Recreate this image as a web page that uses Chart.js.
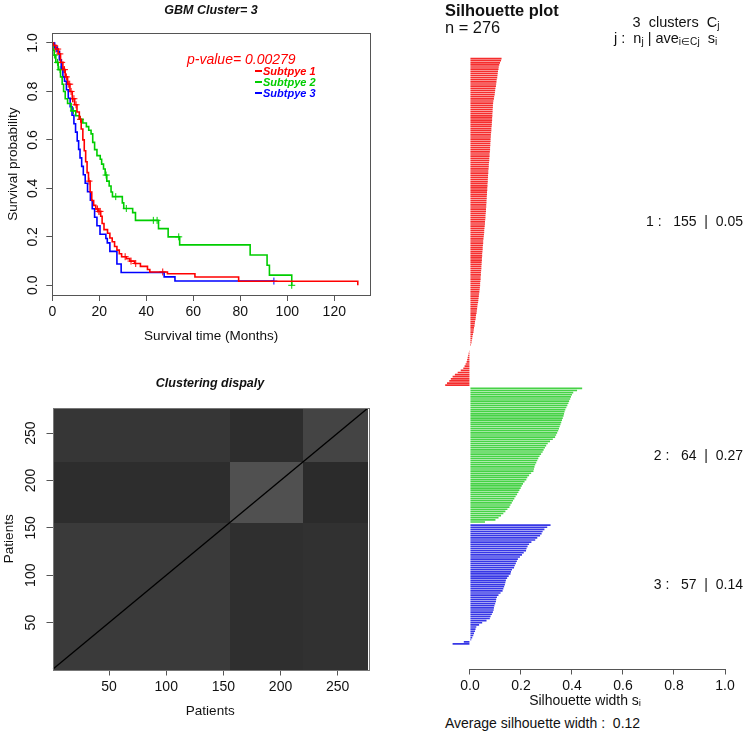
<!DOCTYPE html>
<html>
<head>
<meta charset="utf-8">
<script src="https://cdn.jsdelivr.net/npm/chart.js@4.4.1/dist/chart.umd.min.js"></script>
<style>
  html, body { margin: 0; padding: 0; background: #fff; }
  body { width: 746px; height: 734px; position: relative; overflow: hidden;
         font-family: "Liberation Sans", Arial, sans-serif; color: #111; }
  canvas { position: absolute; }
  .t { position: absolute; white-space: pre; line-height: 1; }
  .t sub { font-size: 70%; vertical-align: -0.25em; line-height: 0; }
  .leg { position: absolute; height: 2px; width: 7px; }
</style>
</head>
<body>
<canvas id="km"   style="left:0;top:0"     width="380" height="345"></canvas>
<canvas id="heat" style="left:0;top:345px" width="380" height="375"></canvas>
<canvas id="sil"  style="left:400px;top:0" width="346" height="710"></canvas>

<!-- survival panel texts -->
<div class="t" style="left:211px;top:10px;transform:translate(-50%,-50%);font-weight:bold;font-style:italic;font-size:12.5px;">GBM Cluster= 3</div>
<div class="t" style="left:187px;top:59px;transform:translateY(-50%);font-style:italic;font-size:14px;color:#f00;">p-value= 0.00279</div>
<div class="leg" style="left:255px;top:70px;background:#f00"></div>
<div class="t" style="left:263px;top:71px;transform:translateY(-50%);font:bold italic 11px 'Liberation Sans',Arial,sans-serif;color:#f00;">Subtpye 1</div>
<div class="leg" style="left:255px;top:81px;background:#00cd00"></div>
<div class="t" style="left:263px;top:82px;transform:translateY(-50%);font:bold italic 11px 'Liberation Sans',Arial,sans-serif;color:#00cd00;">Subtpye 2</div>
<div class="leg" style="left:255px;top:92px;background:#00f"></div>
<div class="t" style="left:263px;top:93px;transform:translateY(-50%);font:bold italic 11px 'Liberation Sans',Arial,sans-serif;color:#00f;">Subtpye 3</div>

<!-- clustering panel title -->
<div class="t" style="left:210px;top:383px;transform:translate(-50%,-50%);font-weight:bold;font-style:italic;font-size:12.5px;">Clustering dispaly</div>

<!-- silhouette panel texts -->
<div class="t" style="left:445px;top:10px;transform:translateY(-50%);font-weight:bold;font-size:16.4px;">Silhouette plot</div>
<div class="t" style="left:445px;top:27px;transform:translateY(-50%);font-size:16.4px;">n = 276</div>
<div class="t" style="left:676px;top:22px;transform:translate(-50%,-50%);font-size:14.5px;">3  clusters  C<sub>j</sub></div>
<div class="t" style="left:614px;top:38px;transform:translateY(-50%);font-size:14.5px;">j :  n<sub>j</sub> | ave<sub>i∈Cj</sub>  s<sub>i</sub></div>
<div class="t" style="right:3px;top:221px;transform:translateY(-50%);font-size:14px;">1 :   155  |  0.05</div>
<div class="t" style="right:3px;top:455px;transform:translateY(-50%);font-size:14px;">2 :   64  |  0.27</div>
<div class="t" style="right:3px;top:584px;transform:translateY(-50%);font-size:14px;">3 :   57  |  0.14</div>
<div class="t" style="left:445px;top:723px;transform:translateY(-50%);font-size:14px;">Average silhouette width :  0.12</div>

<script>
// ── Data ──────────────────────────────────────────────────────────
// Kaplan-Meier curves (months, survival probability)
const redTime   = [0, 0.5, 1.5, 2.5, 3.5, 4.5, 5.5, 6.5, 7.5, 8.5, 9.5, 10.5, 11.5, 12.3, 13, 13.6, 14.2, 14.8, 15.4, 16.1,
                   16.8, 17.6, 18.5, 19.5, 20.6, 21.2, 22, 23.5, 24.5, 25.5, 26.5, 27.5, 28.5, 29.5, 31.5, 33, 35, 37.5, 40.5, 41.5,
                   49, 60.7, 79.3, 130];
const redSurv   = [1, .99, .975, .955, .92, .89, .86, .83, .80, .77, .745, .715, .685, .645, .60, .555, .51, .465, .43, .385,
                   .35, .33, .315, .305, .285, .255, .23, .215, .195, .18, .16, .145, .13, .118, .11, .10, .09, .078, .065, .055,
                   .048, .034, .017, 0];
const greenTime = [0, 0.3, 0.8, 1.5, 2.5, 3.5, 4.2, 4.8, 5.5, 6.5, 8, 10, 11.5, 13, 14.5, 15.5, 16.5, 17.2, 18, 19,
                   20.4, 21, 21.8, 22.5, 23.2, 24.2, 25, 25.6, 29.8, 30.4, 34.2, 35.4, 45.2, 49.3, 54.2, 84.2, 91.4, 92.4, 101.9];
const greenSurv = [1, .97, .95, .92, .89, .86, .83, .80, .77, .75, .72, .70, .685, .67, .655, .64, .625, .59, .56, .535,
                   .52, .50, .48, .455, .43, .41, .385, .366, .34, .317, .30, .268, .234, .200, .167, .125, .083, .042, 0];
const blueTime  = [0, 1, 2, 3, 3.8, 4.5, 5.2, 6, 6.8, 7.6, 8.4, 9.2, 9.9, 10.6, 11.2, 11.8, 12.5, 13.2, 14, 15,
                   16.2, 17, 18, 19, 20.3, 22.8, 23.4, 24.5, 27.5, 29.3, 47.6, 52.2, 94.3];
const blueSurv  = [1, .982, .965, .93, .895, .86, .842, .807, .772, .737, .702, .667, .632, .596, .561, .526, .491, .456, .421, .386,
                   .351, .316, .281, .246, .211, .193, .175, .14, .088, .053, .035, .0175, .0175];
// censoring times
const redCens   = [0.8, 1.5, 2.3, 3.2, 4.0, 4.6, 5.2, 6.0, 6.8, 7.4, 8.0, 8.6, 9.2, 10.1, 12.0, 15.6, 19.2, 19.8, 20.3, 31.0, 33.5, 35.5, 47.0];
const greenCens = [0.9, 2.2, 3.3, 9, 22.9, 27, 31.5, 43, 44.6, 53.8, 101.9];
const blueCens  = [94.3];
const kmXTicks  = [0, 20, 40, 60, 80, 100, 120];
const kmYTicks  = [0, 0.2, 0.4, 0.6, 0.8, 1.0];

// Clustering display: cluster sizes and mean grey level of each block
const clusterSizes = [155, 64, 57];
const blockGray = [          // rows = y cluster (bottom → top), cols = x cluster
  [58, 47, 49],
  [45, 80, 43],
  [54, 45, 68],
];
const heatTicks = [50, 100, 150, 200, 250];

// Silhouette widths, sorted within each cluster
const sil1 = [0.124,0.122,0.118,0.115,0.113,0.112,0.110,0.109,0.108,0.107,0.105,0.104,0.103,0.102,0.100,0.099,0.098,0.097,0.095,0.094,0.092,0.091,
  0.090,0.090,0.089,0.089,0.088,0.088,0.087,0.087,0.086,0.086,0.085,0.084,0.084,0.083,0.082,
  0.082,0.081,0.081,0.080,0.080,0.079,0.079,0.078,0.077,0.077,0.076,0.076,0.075,0.074,0.074,0.073,
  0.072,0.072,0.071,0.071,0.070,0.070,0.069,0.069,0.068,0.068,0.067,
  0.067,0.066,0.066,0.065,0.065,0.064,0.064,0.063,0.063,0.062,0.061,0.061,0.060,
  0.059,0.059,0.058,0.057,0.056,0.056,0.055,0.054,0.053,0.052,
  0.052,0.051,0.050,0.050,0.049,0.048,
  0.048,0.047,0.047,0.046,0.046,0.045,0.045,0.044,0.043,
  0.043,0.042,0.042,0.041,0.040,0.040,0.039,
  0.038,0.037,0.036,0.035,0.034,0.033,0.032,0.030,
  0.029,0.028,0.027,0.026,0.024,0.023,0.022,0.020,
  0.019,0.018,0.016,0.015,0.014,0.012,
  0.010,0.009,0.007,0.006,0.004,
  0.002,0.000,-0.003,
  -0.005,-0.007,-0.009,-0.011,-0.013,
  -0.017,-0.021,-0.026,
  -0.036,-0.048,-0.059,
  -0.068,-0.075,-0.081,
  -0.090,-0.097];
const sil2 = [0.440,0.420,0.405,0.400,0.396,0.393,0.389,0.386,0.382,0.378,0.374,0.371,0.369,0.367,0.364,0.361,0.358,0.355,0.352,0.349,
  0.346,0.342,0.338,0.334,0.325,0.314,0.305,0.299,0.294,0.289,0.285,0.279,0.273,0.268,0.264,0.260,0.256,0.253,0.251,0.249,
  0.240,0.232,0.225,0.221,0.214,0.208,0.203,0.199,0.194,0.190,0.185,0.179,0.174,0.169,0.164,0.159,0.155,0.147,0.139,0.131,
  0.122,0.112,0.100,0.059];
const sil3 = [0.316,0.303,0.292,0.285,0.281,0.275,0.264,0.256,0.241,0.232,0.226,0.222,0.220,0.211,0.204,0.196,0.188,0.184,0.180,0.176,
  0.173,0.165,0.161,0.159,0.152,0.146,0.141,0.139,0.137,0.134,0.131,0.128,0.120,0.112,0.106,0.103,0.102,0.099,0.096,0.094,
  0.093,0.090,0.086,0.081,0.078,0.065,0.048,0.036,0.025,0.022,0.020,0.016,0.013,0.009,0.005,-0.024,-0.068];
const silTicks = [0, 0.2, 0.4, 0.6, 0.8, 1.0];

// ── Common ────────────────────────────────────────────────────────
Chart.defaults.font.family = "'Liberation Sans', Arial, sans-serif";
Chart.defaults.color = "#111";
Chart.defaults.animation = false;
Chart.defaults.plugins.legend.display = false;
Chart.defaults.plugins.tooltip.enabled = false;

const AXIS = "#555";
const RED = "#ff0000", GREEN = "#00cd00", BLUE = "#0000ff";

function fixTicks(list) {
  return scale => { scale.ticks = list.map(v => ({ value: v })); };
}
function survAt(times, surv, t) {
  let s = surv[0];
  times.forEach((ti, i) => { if (ti <= t) s = surv[i]; });
  return s;
}
const boxPlugin = color => ({
  id: "box",
  afterDraw(chart) {
    const { ctx, chartArea: a } = chart;
    ctx.save();
    ctx.strokeStyle = color;
    ctx.lineWidth = 1;
    ctx.strokeRect(Math.round(a.left) + 0.5, Math.round(a.top) + 0.5,
                   Math.round(a.right - a.left), Math.round(a.bottom - a.top));
    ctx.restore();
  }
});

// ── Kaplan-Meier ──────────────────────────────────────────────────
function curve(times, surv, color) {
  return { data: times.map((t, i) => ({ x: t, y: surv[i] })), showLine: true, stepped: true,
           borderColor: color, borderWidth: 1.6, pointRadius: 0 };
}
function censor(cens, times, surv, color) {
  return { data: cens.map(t => ({ x: t, y: survAt(times, surv, t) })), showLine: false,
           pointStyle: "cross", pointRadius: 3.5, borderColor: color, borderWidth: 1, backgroundColor: color };
}

new Chart(document.getElementById("km"), {
  type: "scatter",
  data: { datasets: [
    curve(redTime, redSurv, RED),
    curve(greenTime, greenSurv, GREEN),
    curve(blueTime, blueSurv, BLUE),
    censor(redCens, redTime, redSurv, RED),
    censor(greenCens, greenTime, greenSurv, GREEN),
    censor(blueCens, blueTime, blueSurv, BLUE),
  ] },
  options: {
    responsive: false,
    layout: { padding: { left: 0, top: 33.3, right: 10, bottom: 0 } },
    scales: {
      x: { type: "linear", min: 0, max: 135.2, afterBuildTicks: fixTicks(kmXTicks),
           afterFit: s => { s.height = 50; },
           ticks: { autoSkip: false, font: { size: 14 }, padding: 3, maxRotation: 0 },
           grid: { drawOnChartArea: false, tickLength: 6, color: AXIS },
           border: { display: false },
           title: { display: true, text: "Survival time (Months)", font: { size: 13.5 }, padding: { top: 0, bottom: 0.5 } } },
      y: { type: "linear", min: -0.04, max: 1.04, afterBuildTicks: fixTicks(kmYTicks),
           afterFit: s => { s.width = 52.3; },
           ticks: { autoSkip: false, font: { size: 14 }, padding: 3.5, minRotation: 90, maxRotation: 90,
                    crossAlign: "center", callback: v => v.toFixed(1) },
           grid: { drawOnChartArea: false, tickLength: 6, color: AXIS },
           border: { display: false },
           title: { display: true, text: "Survival probability", font: { size: 13.5 }, padding: { top: 5, bottom: 0 } } }
    }
  },
  plugins: [boxPlugin(AXIS)]
});

// ── Clustering display ────────────────────────────────────────────
const edges = [0.5];
clusterSizes.forEach(n => edges.push(edges[edges.length - 1] + n));

const blockPlugin = {
  id: "blocks",
  beforeDatasetsDraw(chart) {
    const { ctx, scales: { x, y } } = chart;
    ctx.save();
    blockGray.forEach((row, r) => row.forEach((g, c) => {
      const x0 = Math.round(x.getPixelForValue(edges[c])), x1 = Math.round(x.getPixelForValue(edges[c + 1]));
      const y0 = Math.round(y.getPixelForValue(edges[r])), y1 = Math.round(y.getPixelForValue(edges[r + 1]));
      ctx.fillStyle = `rgb(${g},${g},${g})`;
      ctx.fillRect(x0, y1, x1 - x0, y0 - y1);
    }));
    ctx.restore();
  }
};

const nPatients = edges[edges.length - 1] - 0.5;
new Chart(document.getElementById("heat"), {
  type: "scatter",
  data: { datasets: [{
    data: [{ x: 1, y: 1 }, { x: nPatients, y: nPatients }],
    showLine: true, borderColor: "#000", borderWidth: 1.3, pointRadius: 0
  }] },
  options: {
    responsive: false,
    layout: { padding: { left: 0, top: 63, right: 12, bottom: 0 } },
    scales: {
      x: { type: "linear", min: 0.5, max: nPatients + 0.5, afterBuildTicks: fixTicks(heatTicks),
           afterFit: s => { s.height = 50.5; },
           ticks: { autoSkip: false, font: { size: 14 }, padding: 3, maxRotation: 0 },
           grid: { drawOnChartArea: false, tickLength: 6, color: AXIS },
           border: { display: false },
           title: { display: true, text: "Patients", font: { size: 13.5 }, padding: { top: 0, bottom: 0.7 } } },
      y: { type: "linear", min: 0.5, max: nPatients + 0.5, afterBuildTicks: fixTicks(heatTicks),
           afterFit: s => { s.width = 52.5; },
           ticks: { autoSkip: false, font: { size: 14 }, padding: 3.5, minRotation: 90, maxRotation: 90, crossAlign: "center" },
           grid: { drawOnChartArea: false, tickLength: 6, color: AXIS },
           border: { display: false },
           title: { display: true, text: "Patients", font: { size: 13.5 }, padding: { top: 1.5, bottom: 0 } } }
    }
  },
  plugins: [blockPlugin, boxPlugin("#777")]
});

// ── Silhouette plot ───────────────────────────────────────────────
const gap = 0.5;
const starts = [0, sil1.length + gap, sil1.length + sil2.length + 2 * gap];
const total = starts[2] + sil3.length;
function silBars(vals, start, color) {
  return { data: vals.map((v, k) => ({ x: v, y: start + k + 0.5 })), backgroundColor: color,
           grouped: false, barPercentage: 0.78, categoryPercentage: 1, borderWidth: 0 };
}
const silAxisLine = {
  id: "silAxis",
  afterDraw(chart) {
    const { ctx, chartArea: a, scales: { x } } = chart;
    ctx.save();
    ctx.strokeStyle = AXIS;
    ctx.lineWidth = 1;
    ctx.beginPath();
    const yy = Math.round(a.bottom) + 0.5;
    ctx.moveTo(x.getPixelForValue(silTicks[0]), yy);
    ctx.lineTo(x.getPixelForValue(silTicks[silTicks.length - 1]), yy);
    ctx.stroke();
    ctx.restore();
  }
};

const silMin = Math.min(0, ...sil1, ...sil2, ...sil3);
const silPad = (1 - silMin) * 0.04;
new Chart(document.getElementById("sil"), {
  type: "bar",
  data: { datasets: [
    silBars(sil1, starts[0], "rgb(245,45,45)"),
    silBars(sil2, starts[1], "rgb(70,210,70)"),
    silBars(sil3, starts[2], "rgb(55,55,230)"),
  ] },
  options: {
    responsive: false,
    indexAxis: "y",
    layout: { padding: { left: 34, top: 34, right: 9.8, bottom: 0 } },
    scales: {
      x: { type: "linear", min: silMin - silPad, max: 1 + silPad, afterBuildTicks: fixTicks(silTicks),
           afterFit: s => { s.height = 41.5; },
           ticks: { autoSkip: false, font: { size: 14 }, padding: 3.5, maxRotation: 0, callback: v => v.toFixed(1) },
           grid: { drawOnChartArea: false, tickLength: 6, color: AXIS, offset: false },
           border: { display: false },
           title: { display: true, text: "Silhouette width s\u1D62", font: { size: 14 }, padding: { top: 0, bottom: 0 } } },
      y: { type: "linear", reverse: true, offset: false, min: -total * 0.04, max: total * 1.04, display: false }
    }
  },
  plugins: [silAxisLine]
});
</script>
</body>
</html>
